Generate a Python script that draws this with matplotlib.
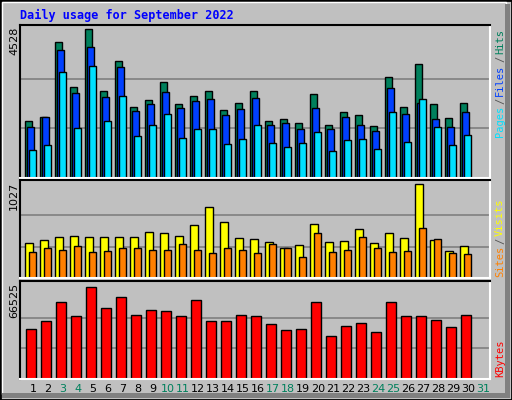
import numpy as np
import matplotlib
matplotlib.use('Agg')
import matplotlib.pyplot as plt
from matplotlib.patches import Rectangle

days = list(range(1, 32))
weekend = [3, 4, 10, 11, 17, 18, 24, 25, 31]

hits = [1727, 1850, 4128, 2772, 4528, 2649, 3542, 2156, 2372, 2926, 2249, 2495,
        2649, 2064, 2280, 2649, 1726, 1788, 1664, 2557, 1602, 2002, 1910, 1571,
        3080, 2156, 3480, 2249, 1818, 2280]
files = [1540, 1848, 3881, 2587, 3970, 2464, 3373, 2034, 2249, 2618, 2126, 2340,
         2402, 1910, 2095, 2433, 1602, 1664, 1479, 2126, 1479, 1848, 1602, 1417,
         2749, 1941, 2279, 1787, 1560, 2002]
pages = [863, 1016, 3219, 1510, 3404, 1725, 2495, 1263, 1602, 1941, 1201, 1479,
         1479, 1047, 1171, 1602, 1078, 955, 1078, 1386, 832, 1140, 1171, 893,
         2002, 1109, 2403, 1540, 1016, 1294]
visits = [382, 415, 449, 460, 449, 449, 449, 449, 504, 493, 460, 582, 771, 615,
          437, 426, 393, 326, 360, 593, 393, 404, 537, 382, 493, 437, 1027, 415,
          293, 348]
sites = [282, 326, 304, 349, 282, 293, 326, 326, 304, 304, 371, 304, 271, 326,
         304, 271, 371, 326, 226, 493, 282, 304, 449, 326, 282, 293, 548, 426,
         271, 260]
kbytes = [36174, 42001, 55840, 45644, 66525, 51081, 59093, 46372, 50014, 49286,
          45644, 57296, 42001, 42001, 46372, 45644, 39814, 35446, 36174, 55840,
          31070, 38357, 40543, 33988, 55840, 45644, 45644, 42730, 37629, 46372]

BG = '#c0c0c0'
W, H = 512, 400
fig = plt.figure(figsize=(5.12, 4.0), dpi=100, facecolor=BG)

# bevelled frame
fig.add_artist(Rectangle((0, 0), 1, 1, transform=fig.transFigure, fill=False, ec='black', lw=2))
fig.add_artist(Rectangle((2/W, 6/H), 1 - 8/W, 1 - 8/H, transform=fig.transFigure,
                         fill=False, ec='white', lw=1))
fig.add_artist(Rectangle((1 - 7/W, 2/H), 5/W, 1 - 6/H, transform=fig.transFigure,
                         color='#808080', lw=0))
fig.add_artist(Rectangle((2/W, 2/H), 1 - 4/W, 5/H, transform=fig.transFigure,
                         color='#808080', lw=0))

fig.text(20/W, 1 - 15/H, 'Daily usage for September 2022', color='#0000ff',
         family='DejaVu Sans Mono', weight='bold', fontsize=8.5, va='center')

x0, x1 = 20, 490
nslots = (x1 - x0) / 15.0


def make_ax(top, bottom):
    ax = fig.add_axes([x0/W, 1 - bottom/H, (x1 - x0)/W, (bottom - top)/H])
    ax.set_facecolor(BG)
    ax.set_xlim(0, nslots)
    ax.set_xticks([])
    ax.set_yticks([])
    for s in ['left', 'top']:
        ax.spines[s].set_color('black')
    for s in ['right', 'bottom']:
        ax.spines[s].set_color('white')
    for s in ax.spines.values():
        s.set_linewidth(1.5)
    return ax


renderer = fig.canvas.get_renderer()


def side_label(ybot, parts):
    # stack coloured pieces upward, measuring each one
    y = ybot
    for txt, col in parts:
        t = fig.text(500/W, 1 - y/H, txt, color=col, rotation=90, family='DejaVu Sans Mono',
                     fontsize=7.5, va='bottom', ha='center')
        bb = t.get_window_extent(renderer)
        y -= bb.height + 2


def grid(ax, vmax):
    for f in (1/3, 2/3):
        ax.axhline(vmax*f, color='#808080', lw=1.2, zorder=0)


pos = np.arange(30)
bar = dict(edgecolor='black', linewidth=1, align='edge')

# panel 1
ax1 = make_ax(25, 178)
ax1.set_ylim(0, 4528*152/148)
grid(ax1, 4528)
ax1.bar(pos + 0.33, hits, 0.45, color='#00805c', **bar)
ax1.bar(pos + 0.47, files, 0.45, color='#0040ff', **bar)
ax1.bar(pos + 0.6, pages, 0.45, color='#00e0ff', **bar)
fig.text(14/W, 1 - 27/H, '4528', rotation=90, fontsize=8, va='top', ha='center')
side_label(137, [('Pages', '#00e0ff'), ('/', '#555555'), ('Files', '#0040ff'),
                 ('/', '#555555'), ('Hits', '#00805c')])

# panel 2
ax2 = make_ax(180, 278)
ax2.set_ylim(0, 1027*96/92)
grid(ax2, 1027)
ax2.bar(pos + 0.33, visits, 0.56, color='#ffff00', **bar)
ax2.bar(pos + 0.6, sites, 0.48, color='#ff8000', **bar)
fig.text(14/W, 1 - 182/H, '1027', rotation=90, fontsize=8, va='top', ha='center')
side_label(277, [('Sites', '#ff8000'), ('/', '#555555'), ('Visits', '#ffff00')])

# panel 3
ax3 = make_ax(281, 379)
ax3.set_ylim(0, 66525*97/91)
grid(ax3, 66525)
ax3.bar(pos + 0.4, kbytes, 0.67, color='#ff0000', **bar)
fig.text(14/W, 1 - 283/H, '66525', rotation=90, fontsize=8, va='top', ha='center')
side_label(377, [('KBytes', '#ff0000')])

for d in days:
    col = '#00805c' if d in weekend else 'black'
    ax3.text(d - 1 + 0.87, -0.1, str(d), transform=ax3.get_xaxis_transform(),
             ha='center', va='center', fontsize=8, color=col)

fig.savefig('out.png', dpi=100, facecolor=BG)
